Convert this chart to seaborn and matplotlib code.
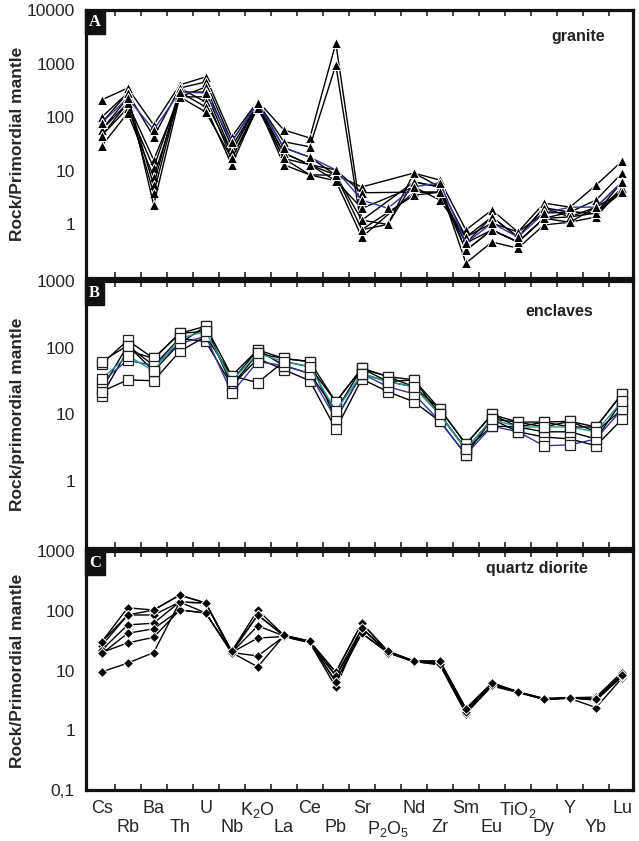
import numpy as np
import pandas as pd
import matplotlib.pyplot as plt
import seaborn as sns
from matplotlib.ticker import FixedLocator, NullLocator

# element order along the x axis
elements = ['Cs', 'Rb', 'Ba', 'Th', 'U', 'Nb', 'K$_2$O', 'La', 'Ce', 'Pb', 'Sr',
            'P$_2$O$_5$', 'Nd', 'Zr', 'Sm', 'Eu', 'TiO$_2$', 'Dy', 'Y', 'Yb', 'Lu']
nan = np.nan

# A - granite samples
granite_1 = [210, 350, 72, 400, 565, 43, 200, 58, 41, 2400, 1.2, 1.0, 9.1, 6.7, 0.79, 1.86, 0.72, 2.5, 2.1, 5.4, 15.2]
granite_2 = [100, 283, 43, 350, 455, 35, 190, 35, 28, 940, 0.8, 1.0, 6.2, 5.0, 0.58, 1.38, 0.58, 2.05, 1.7, 2.85, 9.1]
granite_3 = [78, 229, 58, 295, 283, 35, 185, 27, 18, 10.4, 2.85, 2.0, 5.0, 6.0, 0.45, 1.06, 0.58, 1.63, 2.1, 2.1, 6.2]
granite_4 = [58, 184, 16, 240, 365, 28, 180, 21.5, 13, 8.3, 5.0, nan, 9.1, 5.0, 0.33, 0.79, 0.47, 1.3, 1.7, 1.63, 4.8]
granite_5 = [45, 148, 11.3, 295, 295, 22, 180, 17, 13, 10.4, 3.9, nan, 4.0, 4.0, 0.45, 1.38, 0.58, 2.05, 1.38, 2.1, 6.2]
granite_6 = [29, 120, 7.7, 240, 240, 17, 170, 13, 8.4, 6.5, 2.0, nan, 5.0, 2.85, 0.58, 1.06, 0.72, 1.63, 1.7, 1.63, 4.0]
granite_7 = [58, 229, 5.4, 350, 192, 22, 190, 27, 18, 8.3, 1.2, nan, 6.2, 5.0, 0.19, 0.47, 0.36, 0.98, 1.1, 1.38, 4.8]
granite_8 = [45, 184, 3.8, 295, 155, 13, 160, 21.5, 13, 6.5, 0.58, nan, 4.0, 4.0, 0.33, 0.79, 0.47, 1.3, 1.38, 1.63, 6.2]
granite_9 = [78, 283, 2.3, 240, 125, 17, 148, 17, 8.4, 8.3, 0.8, nan, 3.5, 4.0, 0.45, 0.79, 0.47, 1.3, 1.1, 2.1, 4.0]

# B - enclave samples
enclave_1 = [57, 129, 69, 164, 210, 38, 93, 69, 62, 15.5, 49, 37, 33, 12, 3.6, 10, 7.7, 7.7, 7.9, 6.5, 20.4]
enclave_2 = [34, 76, 45, 138, 176, 32, 82, 62, 52, 11.3, 41, 31, 26, 10, 3.0, 8.5, 6.5, 6.5, 6.5, 5.5, 15.9]
enclave_3 = [31, 65, 54, 116, 148, 21, 62, 54, 41, 8.5, 41, 26, 20.4, 7.9, 2.5, 6.7, 5.5, 3.4, 3.5, 4.3, 12]
enclave_4 = [24, 108, 54, 138, 124, 27, 69, 47, 32, 6.0, 34, 22, 15.5, 7.9, 2.5, 8.5, 5.5, 4.6, 4.3, 3.4, 8.5]
enclave_5 = [19, 91, 69, 164, 176, 32, 93, 54, 41, 11.3, 49, 31, 26, 12, 3.6, 10, 6.5, 5.5, 5.5, 4.3, 15.9]
enclave_6 = [22, 33, 32, 88, 148, 38, 30, 62, 52, 15.5, 49, 37, 26, 10, 3.0, 8.5, 7.7, 6.5, 7.9, 5.5, 12]
enclave_7 = [62, 108, 45, 116, 210, 27, 82, 69, 62, 8.5, 41, 31, 33, 10, 3.0, 6.7, 6.5, 7.7, 6.5, 6.5, 20.4]

# C - quartz diorite samples
diorite_1 = [30, 112, 103, 183, 135, 21, 103, 39, 31, 9.4, 62, 21, 14.4, 14.4, 2.3, 6.2, 4.4, 3.3, 3.5, 3.6, 9.4]
diorite_2 = [26, 85, 85, 140, 135, 20, 85, 38, 30, 8.1, 51, 20, 14.4, 13.5, 2.1, 5.8, 4.4, 3.4, 3.5, 3.3, 8.5]
diorite_3 = [22, 58, 62, 140, 92, 20, 56, 38, 30, 6.4, 42, 20, 14.4, 12.3, 1.9, 5.5, 4.3, 3.3, 3.4, 2.4, 7.5]
diorite_4 = [19, 42, 50, 103, 92, 20, 35, 37, 29, 5.3, 51, 20, 14, 13, 2.0, 5.8, 4.4, 3.3, 3.5, 3.2, 8.0]
diorite_5 = [20, 29, 36, 103, 92, 20, 17.5, 37, 30, 9.4, 62, 21, 14.4, 14, 2.2, 6.0, 4.4, 3.4, 3.5, 3.4, 9.0]
diorite_6 = [9.5, 13.3, 20, 140, 135, 20, 11.5, 38, 30, 8.1, 42, 20, 14, 13, 2.0, 5.8, 4.3, 3.3, 3.5, 3.2, 8.0]
diorite_7 = [30, 85, 103, 183, 135, 21, 85, 39, 31, 6.4, 51, 21, 14.4, 14.4, 2.3, 6.2, 4.4, 3.3, 3.5, 3.3, 8.5]


def to_long(samples):
    rows = []
    for name, vals in samples.items():
        for i, v in enumerate(vals):
            if not np.isnan(v):
                rows.append({'sample': name, 'pos': i, 'value': v})
    return pd.DataFrame(rows)


sns.set_style('white')
plt.rcParams['font.family'] = ['Liberation Sans', 'DejaVu Sans']
plt.rcParams['mathtext.default'] = 'regular'

fig = plt.figure(figsize=(6.39, 8.41), dpi=100)
ax_a = fig.add_axes([0.1346, 0.6694, 0.8560, 0.3187])
ax_b = fig.add_axes([0.1346, 0.3484, 0.8560, 0.3175])
ax_c = fig.add_axes([0.1346, 0.0606, 0.8560, 0.2842])

BLUE = '#34349a'
TEAL = '#2a9a8e'

panels = [
    (ax_a, 'A', 'granite', 'Rock/Primordial mantle',
     {'g1': granite_1, 'g2': granite_2, 'g4': granite_4, 'g5': granite_5,
      'g6': granite_6, 'g7': granite_7, 'g8': granite_8, 'g9': granite_9},
     {BLUE: {'g3': granite_3}},
     dict(marker='^', ms=7, mfc='black', mec='white', mew=0.7),
     (0.1, 10000), [1, 10, 100, 1000, 10000], ['1', '10', '100', '1000', '10000'],
     (0.90, 0.903)),
    (ax_b, 'B', 'enclaves', 'Rock/primordial mantle',
     {'e1': enclave_1, 'e4': enclave_4, 'e5': enclave_5, 'e6': enclave_6, 'e7': enclave_7},
     {BLUE: {'e3': enclave_3}, TEAL: {'e2': enclave_2}},
     dict(marker='s', ms=6.5, mfc='white', mec='#222222', mew=0.9),
     (0.1, 1000), [1, 10, 100, 1000], ['1', '10', '100', '1000'],
     (0.865, 0.884)),
    (ax_c, 'C', 'quartz diorite', 'Rock/Primordial mantle',
     {'q1': diorite_1, 'q2': diorite_2, 'q3': diorite_3, 'q4': diorite_4,
      'q5': diorite_5, 'q6': diorite_6, 'q7': diorite_7},
     {},
     dict(marker='D', ms=5.5, mfc='black', mec='white', mew=0.7),
     (0.1, 1000), [0.1, 1, 10, 100, 1000], ['0,1', '1', '10', '100', '1000'],
     (0.824, 0.925)),
]

for ax, letter, title, ylabel, black_set, coloured, mk, ylim, yt, ytl, tpos in panels:
    df = to_long(black_set)
    sns.lineplot(data=df, x='pos', y='value', units='sample', estimator=None,
                 color='black', lw=1.0, ax=ax, legend=False, **mk)
    for col, smp in coloured.items():
        sns.lineplot(data=to_long(smp), x='pos', y='value', units='sample',
                     estimator=None, color=col, lw=1.0, ax=ax, legend=False, **mk)

    ax.set_yscale('log')
    ax.set_ylim(*ylim)
    ax.set_xlim(-0.6, 20.42)
    ax.yaxis.set_major_locator(FixedLocator(yt))
    ax.yaxis.set_minor_locator(NullLocator())
    ax.set_yticklabels(ytl)
    ax.tick_params(axis='y', which='major', direction='in', length=5, width=1.2,
                   labelsize=12.5, pad=8)

    # tick marks sit between the element positions
    ax.set_xticks(range(0, len(elements), 2))
    ax.set_xticks(np.arange(0.5, len(elements) - 1, 1.0), minor=True)
    ax.tick_params(axis='x', which='major', length=0, labelbottom=False)
    ax.tick_params(axis='x', which='minor', direction='in', length=4, width=1.2,
                   top=True, bottom=True)

    for s in ax.spines.values():
        s.set_linewidth(2.3)
        s.set_color('#111111')

    ax.set_xlabel('')
    ax.set_ylabel(ylabel, fontsize=12.5, fontweight='bold')
    ax.yaxis.set_label_coords(-0.112, 0.5)

    ax.text(tpos[0], tpos[1], title, transform=ax.transAxes, ha='center',
            va='center', fontsize=11.5, fontweight='bold', color='#222222')
    ax.text(0.016, 0.985, letter, transform=ax.transAxes, ha='center', va='top',
            fontsize=12, fontweight='bold', color='white',
            family=['Liberation Serif', 'DejaVu Serif'],
            bbox=dict(boxstyle='square,pad=0.25', fc='#111111', ec='#111111'))

# two-row element labels under the last panel
ax_c.set_xticklabels(elements[0::2])
ax_c.tick_params(axis='x', which='major', labelbottom=True, labelsize=13, pad=7)

sec = ax_c.secondary_xaxis('bottom')
sec.set_xticks(range(1, len(elements), 2))
sec.set_xticklabels(elements[1::2])
sec.tick_params(axis='x', length=0, labelsize=13, pad=21)
sec.spines['bottom'].set_visible(False)

fig.savefig('out.png', dpi=100)
